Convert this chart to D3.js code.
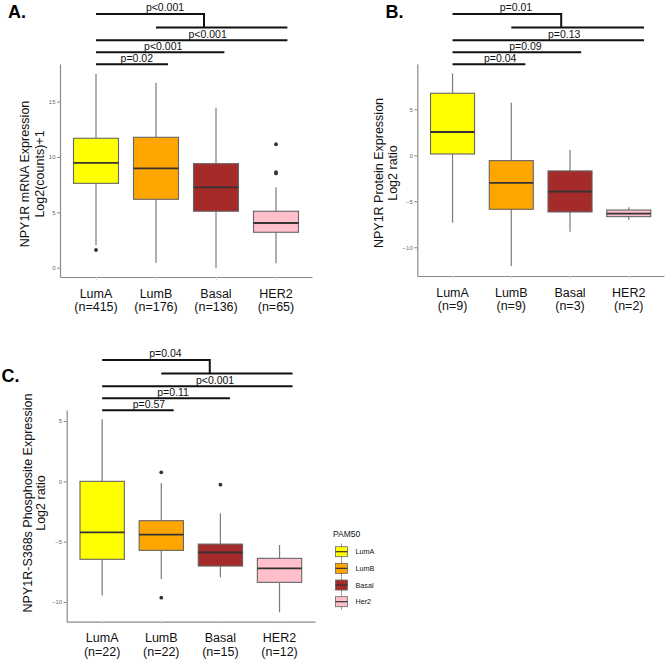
<!DOCTYPE html>
<html><head><meta charset="utf-8">
<script src="https://cdn.jsdelivr.net/npm/d3@7"></script>
<style>body{margin:0;background:#fff} text{font-family:"Liberation Sans",Arial,Helvetica,sans-serif}</style>
</head><body><svg id="c" width="668" height="659"></svg>
<script>
// ---------- data ----------
const categories = ["LumA","LumB","Basal","HER2"];
const legendLabels = ["LumA","LumB","Basal","Her2"];
const fills = ["#FFFF00","#FFA500","#A52A2A","#FFC0CB"];

// Panel A: NPY1R mRNA
const countsA = [415,176,136,65];
const q1A  = [7.62, 6.18, 5.10, 3.20];
const medA = [9.46, 8.98, 7.26, 4.04];
const q3A  = [11.69, 11.78, 9.40, 5.10];
const loA  = [2.05, 0.45, 0.00, 0.40];
const hiA  = [17.5, 16.7, 14.45, 7.26];
const outA = [[1.6],[],[],[11.15, 8.64, 8.52]];
const ticksA = [0,5,10,15];
const pA = ["p=0.02","p<0.001","p<0.001","p<0.001"];

// Panel B: NPY1R protein
const countsB = [9,9,3,2];
const q1B  = [0.14, -5.87, -6.16, -6.67];
const medB = [2.53, -3.01, -3.96, -6.35];
const q3B  = [6.74, -0.58, -1.70, -5.95];
const loB  = [-7.33, -12.03, -8.30, -7.03];
const hiB  = [8.90, 5.72, 0.58, -5.65];
const outB = [[],[],[],[]];
const ticksB = [-10,-5,0,5];
const pB = ["p=0.04","p=0.09","p=0.13","p=0.01"];

// Panel C: NPY1R-S368s phosphosite
const countsC = [22,22,15,12];
const q1C  = [-6.46, -5.72, -7.02, -8.37];
const medC = [-4.23, -4.42, -5.88, -7.21];
const q3C  = [0.00, -3.26, -5.20, -6.38];
const loC  = [-9.45, -8.10, -7.96, -10.85];
const hiC  = [5.14, -0.14, -2.65, -5.28];
const outC = [[],[0.75, -9.64],[-0.28],[]];
const ticksC = [-10,-5,0,5];
const pC = ["p=0.57","p=0.11","p<0.001","p=0.04"];

// ---------- layout ----------
const panels = [
  {tag:"A.", tagX:8, tagY:18, left:60, right:312, top:64, bottom:277, yDomain:[-0.84,18.4],
   counts:countsA, q1:q1A, med:medA, q3:q3A, lo:loA, hi:hiA, out:outA, ticks:ticksA, p:pA,
   title:["NPY1R mRNA Expression","Log2(counts)+1"], titleX:[29,44], titleY:174,
   ends:[2.2,3.14,4.19], topEnd:2.8, labelX:[1.68,2.12,2.86,2.15]},
  {tag:"B.", tagX:385.5, tagY:18, left:417.3, right:664, top:64, bottom:276, yDomain:[-13.12,9.92],
   counts:countsB, q1:q1B, med:medB, q3:q3B, lo:loB, hi:hiB, out:outB, ticks:ticksB, p:pB,
   title:["NPY1R Protein Expression","Log2 ratio"], titleX:[383,397], titleY:173,
   ends:[2.24,3.19,4.26], topEnd:2.85, labelX:[1.81,2.24,2.9,2.08]},
  {tag:"C.", tagX:1.5, tagY:382, left:66.7, right:315, top:410, bottom:621.7, yDomain:[-11.63,5.91],
   counts:countsC, q1:q1C, med:medC, q3:q3C, lo:loC, hi:hiC, out:outC, ticks:ticksC, p:pC,
   title:["NPY1R-S368s Phosphosite Expression","Log2 ratio"], titleX:[32,45], titleY:503,
   ends:[2.21,3.16,4.22], topEnd:2.82, labelX:[1.79,2.2,2.91,2.07]}
];

const svg = d3.select("#c");

panels.forEach(cfg => {
  const g = svg.append("g");
  const x = d3.scaleLinear().domain([0.4, 4.6]).range([cfg.left, cfg.right]);
  const y = d3.scaleLinear().domain(cfg.yDomain).range([cfg.bottom, cfg.top]);
  const unit = x(2) - x(1);

  // tag
  g.append("text").attr("x", cfg.tagX).attr("y", cfg.tagY)
    .attr("font-size", 18).attr("font-weight", "bold").attr("fill", "#000").text(cfg.tag);

  // y axis
  const ya = g.append("g").attr("transform", `translate(${cfg.left},0)`)
    .call(d3.axisLeft(y).tickValues(cfg.ticks).tickSize(3).tickSizeOuter(0).tickPadding(1.5));
  ya.select(".domain").attr("stroke", "#8a8a8a").attr("stroke-width", 1.2);
  ya.selectAll(".tick line").attr("stroke", "#8a8a8a");
  ya.selectAll(".tick text").attr("font-size", 6).attr("fill", "#6a6a6a")
    .attr("font-family", '"Liberation Sans",Arial,sans-serif');

  // x axis
  const xa = g.append("g").attr("transform", `translate(0,${cfg.bottom})`)
    .call(d3.axisBottom(x).tickValues([1,2,3,4]).tickFormat("").tickSize(3).tickSizeOuter(0));
  xa.select(".domain").attr("stroke", "#8a8a8a").attr("stroke-width", 1.2);
  xa.selectAll(".tick line").attr("stroke", "#d8d8d8");

  // x labels
  categories.forEach((c, i) => {
    const t = g.append("text").attr("text-anchor", "middle").attr("font-size", 12.5).attr("fill", "#111");
    t.append("tspan").attr("x", x(i + 1)).attr("y", cfg.bottom + 20.5).text(c);
    t.append("tspan").attr("x", x(i + 1)).attr("y", cfg.bottom + 34).text(`(n=${cfg.counts[i]})`);
  });

  // y title
  cfg.title.forEach((line, k) => {
    g.append("text").attr("transform", `translate(${cfg.titleX[k]},${cfg.titleY}) rotate(-90)`)
      .attr("text-anchor", "middle").attr("font-size", 12.5).attr("fill", "#111").text(line);
  });

  // boxes
  categories.forEach((c, i) => {
    const cx = x(i + 1);
    const hw = 0.375 * unit;
    g.append("line").attr("x1", cx).attr("x2", cx).attr("y1", y(cfg.hi[i])).attr("y2", y(cfg.q3[i]))
      .attr("stroke", "#7a7a7a").attr("stroke-width", 1.2);
    g.append("line").attr("x1", cx).attr("x2", cx).attr("y1", y(cfg.q1[i])).attr("y2", y(cfg.lo[i]))
      .attr("stroke", "#7a7a7a").attr("stroke-width", 1.2);
    g.append("rect").attr("x", cx - hw).attr("width", 2 * hw)
      .attr("y", y(cfg.q3[i])).attr("height", y(cfg.q1[i]) - y(cfg.q3[i]))
      .attr("fill", fills[i]).attr("stroke", "#666").attr("stroke-width", 1.1);
    g.append("line").attr("x1", cx - hw).attr("x2", cx + hw).attr("y1", y(cfg.med[i])).attr("y2", y(cfg.med[i]))
      .attr("stroke", "#333").attr("stroke-width", 1.8);
    cfg.out[i].forEach(v => {
      g.append("circle").attr("cx", cx).attr("cy", y(v)).attr("r", 1.9).attr("fill", "#333");
    });
  });

  // significance brackets
  const lvl = [cfg.top + 0.3, cfg.top - 11.7, cfg.top - 23.7];
  cfg.ends.forEach((e, k) => {
    g.append("line").attr("x1", x(1)).attr("x2", x(e)).attr("y1", lvl[k]).attr("y2", lvl[k])
      .attr("stroke", "#111").attr("stroke-width", 2);
    g.append("text").attr("x", x(cfg.labelX[k])).attr("y", lvl[k] - 2)
      .attr("text-anchor", "middle").attr("font-size", 10.5).attr("fill", "#111").text(cfg.p[k]);
  });
  const yTop = cfg.top - 50, yMid = cfg.top - 36.5;
  g.append("path")
    .attr("d", `M${x(1)},${yTop}H${x(cfg.topEnd)}V${yMid}`)
    .attr("fill", "none").attr("stroke", "#111").attr("stroke-width", 2);
  g.append("line").attr("x1", x(2)).attr("x2", x(cfg.ends[2])).attr("y1", yMid).attr("y2", yMid)
    .attr("stroke", "#111").attr("stroke-width", 2);
  g.append("text").attr("x", x(cfg.labelX[3])).attr("y", yTop - 3)
    .attr("text-anchor", "middle").attr("font-size", 10.5).attr("fill", "#111").text(cfg.p[3]);
});

// legend
const lg = svg.append("g");
lg.append("text").attr("x", 333).attr("y", 537).attr("font-size", 8.5).attr("fill", "#111").text("PAM50");
const ly = d3.scalePoint().domain(legendLabels).range([551.7, 601.7]);
legendLabels.forEach((lab, i) => {
  const cy = ly(lab);
  lg.append("line").attr("x1", 341.5).attr("x2", 341.5).attr("y1", cy - 8).attr("y2", cy + 8)
    .attr("stroke", "#777").attr("stroke-width", 0.8);
  lg.append("rect").attr("x", 335.5).attr("y", cy - 5).attr("width", 12).attr("height", 10)
    .attr("fill", fills[i]).attr("stroke", "#666").attr("stroke-width", 0.8);
  lg.append("line").attr("x1", 335.5).attr("x2", 347.5).attr("y1", cy).attr("y2", cy)
    .attr("stroke", "#333").attr("stroke-width", 1.2);
  lg.append("text").attr("x", 355.5).attr("y", cy + 2.6).attr("font-size", 7.2).attr("fill", "#111").text(lab);
});
</script></body></html>
